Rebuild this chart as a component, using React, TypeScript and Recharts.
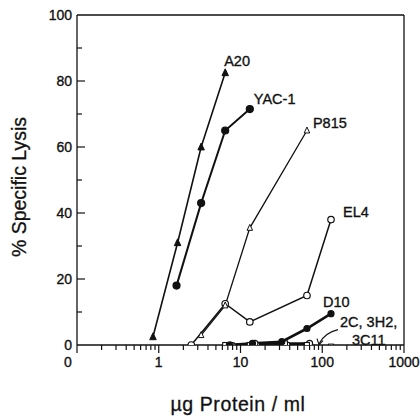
import { LineChart, Line, XAxis, YAxis, ReferenceLine, LabelList, Label } from "recharts"

// dose-response curves (x = µg protein/ml, y = % specific lysis)
const a20X = [0.85, 1.7, 3.3, 6.5]
const a20Y = [2.5, 31, 60, 82.5]
const yacX = [1.65, 3.3, 6.5, 13]
const yacY = [18, 43, 65, 71.5]
const p815X = [3.3, 6.5, 13, 65]
const p815Y = [3, 12, 35.5, 65]
const el4X = [2.5, 6.5, 13, 65, 128]
const el4Y = [0, 12.5, 7, 15, 38]
const d10X = [7.3, 14, 32, 65, 128]
const d10Y = [0, 0.5, 1, 5, 9.5]
const c2X = [6.5, 13, 35, 65, 128]
const c2Y = [0, 0, 0.5, 0, -0.5]
const h3X = [7.5, 15, 37, 70]
const h3Y = [0, 0.5, 0, 0.5]
const c11X = [8, 16, 32, 70]
const c11Y = [0, 0, 0.5, 0.5]

const xMajor = [0.1, 1, 10, 100, 1000]
const xMinorMult = [2, 3, 4, 5, 6, 7, 8, 9]
const yTicks = [0, 10, 20, 30, 40, 50, 60, 70, 80, 90, 100]
const yLabeled = [0, 20, 40, 60, 80, 100]

const xTicks = [
  ...xMajor,
  ...xMajor.slice(0, 4).flatMap((d) => xMinorMult.map((m) => d * m)),
].sort((a, b) => a - b)

const zip = (xs: number[], ys: number[]) => xs.map((x, i) => ({ x, y: ys[i] }))

const FONT = "'Liberation Sans', Arial, Helvetica, sans-serif"
const INK = "#111"
// the scan prints text a little heavier than a regular weight
const txt = { fontFamily: FONT, fill: INK, stroke: INK, strokeWidth: 0.35 }

const XTick = (props: any) => {
  const { x, y, payload } = props
  const v = payload.value
  const major = xMajor.includes(v)
  return (
    <g>
      <line x1={x} x2={x} y1={y} y2={y + (major ? 8 : 5)} stroke={INK} strokeWidth={1.2} />
      {major && (
        <text x={x + (v === 0.1 ? -9 : 0)} y={y + 22} textAnchor="middle" fontSize={14} {...txt}>
          {v === 0.1 ? "0" : String(v)}
        </text>
      )}
    </g>
  )
}

const YTickLeft = (props: any) => {
  const { x, y, payload } = props
  const v = payload.value
  const major = yLabeled.includes(v)
  return (
    <g>
      {v !== 0 && v !== 100 && <line x1={x} x2={x + (major ? 8 : 5)} y1={y} y2={y} stroke={INK} strokeWidth={1.2} />}
      {major && (
        <text x={x - 5} y={y + 5} textAnchor="end" fontSize={14} {...txt}>
          {v}
        </text>
      )}
    </g>
  )
}

const YTickRight = (props: any) => {
  const { x, y, payload } = props
  const v = payload.value
  if (v === 0 || v === 100) return <g />
  const major = yLabeled.includes(v)
  return <line x1={x} x2={x - (major ? 10 : 5)} y1={y} y2={y} stroke={INK} strokeWidth={1.2} />
}

function marker(kind: "tri" | "circle" | "square", filled: boolean, size: number) {
  return (p: any) => {
    const { cx, cy, index } = p
    if (cx == null || cy == null) return <g key={index} />
    const fill = filled ? INK : "#fff"
    if (kind === "tri") {
      const h = size * 0.9
      const pts = `${cx},${cy - h / 2 - 1} ${cx - size / 2},${cy + h / 2} ${cx + size / 2},${cy + h / 2}`
      return <polygon key={index} points={pts} fill={fill} stroke={INK} strokeWidth={1} />
    }
    if (kind === "square") {
      return <rect key={index} x={cx - size / 2} y={cy - size / 2} width={size} height={size} fill={fill} stroke={INK} strokeWidth={1.1} />
    }
    return <circle key={index} cx={cx} cy={cy} r={size / 2} fill={fill} stroke={INK} strokeWidth={1.2} />
  }
}

function endLabel(lines: string[], count: number, dx: number, dy: number, arrow = false) {
  return (p: any) => {
    if (p.index !== count - 1) return null
    const x = Number(p.x)
    const y = Number(p.y)
    return (
      <g>
        {lines.map((t, i) => (
          <text key={t} x={x + dx + i * 12} y={y + dy + i * 18} fontSize={14.5} {...txt}>
            {t}
          </text>
        ))}
        {arrow && (
          <g stroke={INK} fill="none" strokeWidth={1.1}>
            <path d={`M ${x + 7} ${y - 17} Q ${x - 6} ${y - 14} ${x - 12} ${y - 3}`} />
            <path d={`M ${x - 14} ${y - 8} L ${x - 12} ${y - 2} L ${x - 8} ${y - 6}`} />
          </g>
        )}
      </g>
    )
  }
}

export default function App() {
  return (
    <div style={{ position: "absolute", left: 0, top: 0, width: 420, height: 416, background: "#fff" }}>
      <LineChart width={420} height={416} margin={{ top: 15, right: 0, left: 0, bottom: 0 }}>
        <XAxis
          xAxisId="x"
          dataKey="x"
          type="number"
          scale="log"
          domain={[0.1, 1000]}
          allowDataOverflow
          ticks={xTicks}
          interval={0}
          height={71}
          tickSize={0}
          tickMargin={0}
          tick={XTick}
          axisLine={{ stroke: INK, strokeWidth: 1.3 }}
        >
          <Label
            content={() => (
              <text x={238} y={411} textAnchor="middle" fontSize={19.5} {...txt} strokeWidth={0.3} letterSpacing={0.6}>
                µg Protein / ml
              </text>
            )}
          />
        </XAxis>
        <YAxis
          yAxisId="l"
          type="number"
          domain={[0, 100]}
          allowDataOverflow
          ticks={yTicks}
          interval={0}
          width={77}
          tickSize={0}
          tickMargin={0}
          tick={YTickLeft}
          axisLine={{ stroke: INK, strokeWidth: 1.3 }}
        >
          <Label
            content={() => (
              <text x={26} y={187} transform="rotate(-90 26 187)" textAnchor="middle" fontSize={19.5} {...txt} strokeWidth={0.3}>
                % Specific Lysis
              </text>
            )}
          />
        </YAxis>
        <YAxis
          yAxisId="r"
          orientation="right"
          type="number"
          domain={[0, 100]}
          ticks={yTicks}
          interval={0}
          width={16}
          tickSize={0}
          tickMargin={0}
          tick={YTickRight}
          axisLine={{ stroke: INK, strokeWidth: 1.3 }}
        />
        <ReferenceLine xAxisId="x" yAxisId="l" y={100} stroke={INK} strokeWidth={1.3} />

        <Line xAxisId="x" yAxisId="l" data={zip(c11X, c11Y)} dataKey="y" stroke={INK} strokeWidth={2} dot={marker("circle", false, 5)} isAnimationActive={false} />
        <Line xAxisId="x" yAxisId="l" data={zip(h3X, h3Y)} dataKey="y" stroke={INK} strokeWidth={2} dot={marker("circle", false, 6)} isAnimationActive={false} />
        <Line xAxisId="x" yAxisId="l" data={zip(c2X, c2Y)} dataKey="y" stroke={INK} strokeWidth={1.5} dot={marker("square", false, 5)} isAnimationActive={false}>
          <LabelList dataKey="y" content={endLabel(["2C, 3H2,", "3C11"], c2X.length, 9, -20, true)} />
        </Line>
        <Line xAxisId="x" yAxisId="l" data={zip(d10X, d10Y)} dataKey="y" stroke={INK} strokeWidth={2.6} dot={marker("circle", true, 6)} isAnimationActive={false}>
          <LabelList dataKey="y" content={endLabel(["D10"], d10X.length, -8, -7)} />
        </Line>
        <Line xAxisId="x" yAxisId="l" data={zip(el4X, el4Y)} dataKey="y" stroke={INK} strokeWidth={1.5} dot={marker("circle", false, 6.5)} isAnimationActive={false}>
          <LabelList dataKey="y" content={endLabel(["EL4"], el4X.length, 12, -3)} />
        </Line>
        <Line xAxisId="x" yAxisId="l" data={zip(p815X, p815Y)} dataKey="y" stroke={INK} strokeWidth={1.3} dot={marker("tri", false, 5.5)} isAnimationActive={false}>
          <LabelList dataKey="y" content={endLabel(["P815"], p815X.length, 6, -3)} />
        </Line>
        <Line xAxisId="x" yAxisId="l" data={zip(yacX, yacY)} dataKey="y" stroke={INK} strokeWidth={2} dot={marker("circle", true, 7)} isAnimationActive={false}>
          <LabelList dataKey="y" content={endLabel(["YAC-1"], yacX.length, 4, -5)} />
        </Line>
        <Line xAxisId="x" yAxisId="l" data={zip(a20X, a20Y)} dataKey="y" stroke={INK} strokeWidth={1.6} dot={marker("tri", true, 6.5)} isAnimationActive={false}>
          <LabelList dataKey="y" content={endLabel(["A20"], a20X.length, -1, -7)} />
        </Line>
      </LineChart>
    </div>
  )
}
